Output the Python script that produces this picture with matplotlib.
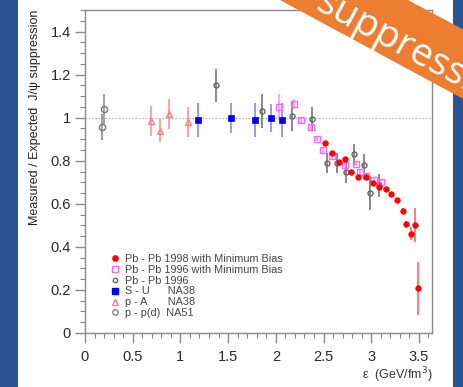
import matplotlib
matplotlib.use("Agg")
import matplotlib.pyplot as plt
from matplotlib.patches import Polygon, Rectangle
from matplotlib.ticker import MultipleLocator, FixedLocator
from matplotlib.lines import Line2D

# ---- data -------------------------------------------------------------
# Pb-Pb 1998, minimum bias
pb98_x = [2.52, 2.59, 2.66, 2.725, 2.785, 2.86, 2.94, 3.015, 3.08, 3.15,
          3.21, 3.27, 3.33, 3.365, 3.42, 3.46, 3.49]
pb98_y = [0.882, 0.835, 0.793, 0.808, 0.746, 0.723, 0.724, 0.695, 0.678,
          0.668, 0.645, 0.616, 0.567, 0.507, 0.462, 0.501, 0.207]
pb98_e = [0.01, 0.01, 0.01, 0.01, 0.01, 0.01, 0.01, 0.01, 0.01, 0.01,
          0.01, 0.01, 0.012, 0.015, 0.03, 0.08, 0.125]

# Pb-Pb 1996, minimum bias
pb96mb_x = [2.03, 2.19, 2.26, 2.37, 2.43, 2.49, 2.59, 2.72, 2.84, 2.88,
            2.95, 3.03, 3.10]
pb96mb_y = [1.048, 1.064, 0.99, 0.955, 0.90, 0.848, 0.82, 0.78, 0.786,
            0.746, 0.727, 0.712, 0.70]
pb96mb_e = [0.06, 0.025, 0.015, 0.012, 0.01, 0.01, 0.01, 0.01, 0.01,
            0.01, 0.01, 0.01, 0.01]

# Pb-Pb 1996
pb96_x = [1.37, 1.855, 2.17, 2.38, 2.54, 2.645, 2.74, 2.82, 2.92, 2.99, 3.08]
pb96_y = [1.15, 1.03, 1.006, 0.994, 0.79, 0.79, 0.746, 0.83, 0.78, 0.65, 0.685]
pb96_e = [0.078, 0.08, 0.07, 0.055, 0.045, 0.045, 0.05, 0.05, 0.05, 0.08, 0.055]

# S-U, NA38
su_x = [1.18, 1.53, 1.78, 1.95, 2.06]
su_y = [0.99, 1.0, 0.99, 1.0, 0.99]
su_e = [0.08, 0.07, 0.08, 0.065, 0.08]

# p-A, NA38
pa_x = [0.69, 0.79, 0.88, 1.08]
pa_y = [0.986, 0.94, 1.017, 0.981]
pa_e = [0.07, 0.055, 0.07, 0.07]

# p-p(d), NA51
pp_x = [0.18, 0.20]
pp_y = [0.957, 1.042]
pp_e = [0.06, 0.07]

x_ticks = [0, 0.5, 1, 1.5, 2, 2.5, 3, 3.5]
x_tick_labels = ["0", "0.5", "1", "1.5", "2", "2.5", "3", "3.5"]
y_ticks = [0, 0.2, 0.4, 0.6, 0.8, 1.0, 1.2, 1.4]
y_tick_labels = ["0", "0.2", "0.4", "0.6", "0.8", "1", "1.2", "1.4"]

legend_labels = [
    "Pb - Pb 1998 with Minimum Bias",
    "Pb - Pb 1996 with Minimum Bias",
    "Pb - Pb 1996",
    "S - U      NA38",
    "p - A       NA38",
    "p - p(d)  NA51",
]

# ---- figure -----------------------------------------------------------
W, H = 464, 387
plt.rcParams["font.family"] = ["Liberation Sans", "DejaVu Sans"]
fig = plt.figure(figsize=(W / 100, H / 100), dpi=100)
fig.patch.set_facecolor("#2c5392")


def px(x, y):
    return (x / W, 1 - y / H)


# white slide panel
x0, _ = px(18, 0)
x1, _ = px(453, 0)
fig.patches.append(Rectangle((x0, 0), x1 - x0, 1, transform=fig.transFigure,
                             facecolor="white", edgecolor="none", zorder=-5))

ax = fig.add_axes([85 / W, (H - 333) / H, 347 / W, 323 / H])
ax.set_zorder(2)
ax.set_xlim(0, 3.637)
ax.set_ylim(0, 1.5)
ax.set_facecolor("white")

ax.axhline(1.0, color="#b0b0b0", lw=0.8, ls=(0, (1.5, 1.5)), zorder=1)

ekw = dict(linestyle="none", elinewidth=1.3, capsize=0, zorder=3)
ax.errorbar(pp_x, pp_y, yerr=pp_e, marker="o", ms=4.5, mfc="none",
            mec="#777777", mew=1.0, ecolor="#999999", **ekw)
ax.errorbar(pa_x, pa_y, yerr=pa_e, marker="^", ms=5, mfc="none",
            mec="#ff8080", mew=1.0, ecolor="#ff9a9a", **ekw)
ax.errorbar(su_x, su_y, yerr=su_e, marker="s", ms=4.3, mfc="#0000ff",
            mec="#0000ff", mew=0.5, ecolor="#8f8fff", **ekw)
ax.errorbar(pb96_x, pb96_y, yerr=pb96_e, marker="o", ms=3.6, mfc="none",
            mec="#666666", mew=1.0, ecolor="#808080", **ekw)
ax.errorbar(pb96mb_x, pb96mb_y, yerr=pb96mb_e, marker="s", ms=4.2, mfc="none",
            mec="#ff66ff", mew=1.0, ecolor="#ff99ff", **ekw)
ax.errorbar(pb98_x, pb98_y, yerr=pb98_e, marker="o", ms=4.0, mfc="#ff0000",
            mec="#ff0000", mew=0.5, ecolor="#ff7070", **ekw)

# axes styling
for s in ax.spines.values():
    s.set_color("#8a8a8a")
    s.set_linewidth(1.0)
ax.xaxis.set_major_locator(FixedLocator(x_ticks))
ax.set_xticklabels(x_tick_labels)
ax.yaxis.set_major_locator(FixedLocator(y_ticks))
ax.set_yticklabels(y_tick_labels)
ax.xaxis.set_minor_locator(MultipleLocator(0.1))
ax.yaxis.set_minor_locator(MultipleLocator(0.05))
ax.tick_params(which="both", direction="out", color="#8a8a8a",
               labelcolor="#2a2a2a", labelsize=10.5)
ax.tick_params(which="major", length=7, width=1.0)
ax.tick_params(which="minor", length=3.5, width=0.8)
ax.tick_params(axis="x", which="major", pad=5)
ax.tick_params(axis="y", which="major", pad=3)
ax.tick_params(top=False, right=False)

ax.set_ylabel("Measured / Expected  J/\u03c8 suppression", fontsize=9,
              color="#222222")
ax.yaxis.set_label_coords(-0.128, 1.0)
ax.yaxis.label.set_horizontalalignment("right")
ax.set_xlabel("\u03b5  (GeV/fm$^3$)", fontsize=9, color="#333333")
ax.xaxis.set_label_coords(1.0, -0.1)
ax.xaxis.label.set_horizontalalignment("right")

# legend
handles = [
    Line2D([], [], ls="none", marker="o", ms=3.8, mfc="#ff0000", mec="#ff0000"),
    Line2D([], [], ls="none", marker="s", ms=4.0, mfc="none", mec="#ff66ff"),
    Line2D([], [], ls="none", marker="o", ms=3.2, mfc="none", mec="#666666"),
    Line2D([], [], ls="none", marker="s", ms=4.0, mfc="#0000ff", mec="#0000ff"),
    Line2D([], [], ls="none", marker="^", ms=4.2, mfc="none", mec="#ff8080"),
    Line2D([], [], ls="none", marker="o", ms=4.0, mfc="none", mec="#888888"),
]
leg = ax.legend(handles, legend_labels, loc="upper left",
                bbox_to_anchor=(0.072, 0.245), frameon=False, fontsize=7.8,
                handlelength=1.0, handletextpad=0.35, labelspacing=0.08,
                borderaxespad=0, borderpad=0)
for t in leg.get_texts():
    t.set_color("#444444")

# orange corner banner
band = [px(280, 0), px(464, 99.4), px(464, 30), px(408, 0)]
fig.patches.append(Polygon(band, closed=True, transform=fig.transFigure,
                           facecolor="#ed7d31", edgecolor="none", zorder=10))
fig.text(*px(318, 0), "suppression", rotation=-28.4, rotation_mode="anchor",
         ha="left", va="center", color="white", fontsize=28,
         family="Open Sans", zorder=11)

fig.savefig("out.png", dpi=100, facecolor=fig.get_facecolor())
